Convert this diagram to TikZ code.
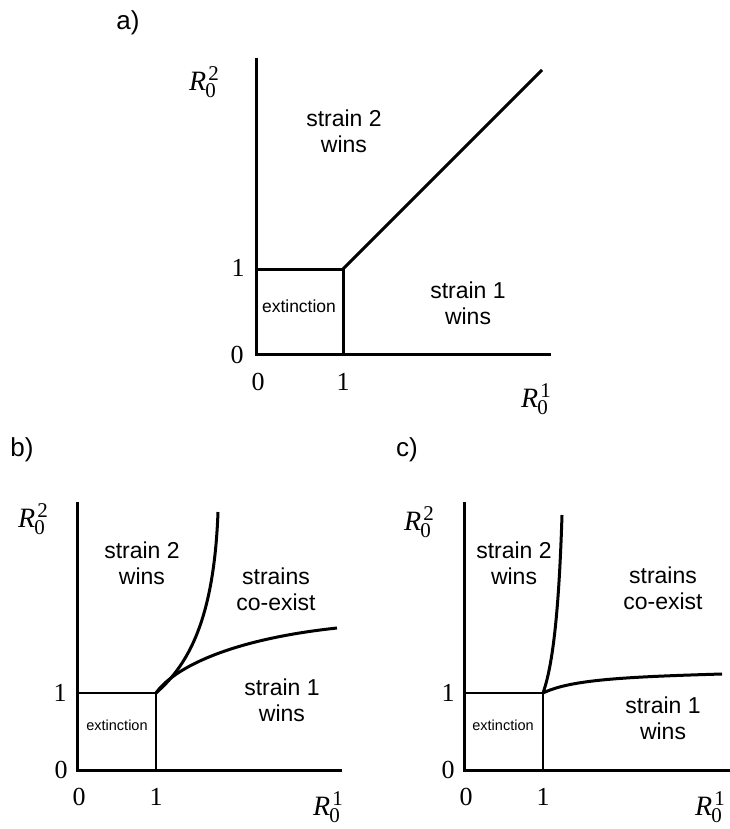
\documentclass[tikz,border=0pt]{standalone}
\usepackage{fontspec}
\setmainfont{Liberation Sans}
\newfontfamily\tms{Liberation Serif}
\newcommand{\Rlab}[2]{{\tms\fontsize{28}{28}\selectfont\textit{R}\kern-1pt\makebox[0pt][l]{\raisebox{-7pt}{\fontsize{21}{21}\selectfont #1}}\raisebox{10pt}{\kern3pt\fontsize{21}{21}\selectfont #2}}}
\begin{document}
\begin{tikzpicture}[x=1pt,y=-1pt,
  ax/.style={line width=3pt,line cap=rect},
  bx/.style={line width=3pt},
  bxs/.style={line width=2.3pt},
  crv/.style={line width=3pt},
  reg/.style={align=center,font=\fontsize{23}{26}\selectfont,inner sep=0pt},
  ext/.style={font=\fontsize{17.5}{17.5}\selectfont,inner sep=0pt},
  exts/.style={font=\fontsize{14.5}{14.5}\selectfont,inner sep=0pt},
  tick/.style={font=\tms\fontsize{26}{26}\selectfont,inner sep=0pt},
  plab/.style={font=\fontsize{26}{26}\selectfont,inner sep=0pt},
  rl/.style={inner sep=0pt}]
\useasboundingbox (0,0) rectangle (730,829);
% ---------- panel a ----------
\node[plab] (la) at (128,23) {a)};
\coordinate (aT) at (256,60);
\coordinate (aO) at (256,354);
\coordinate (aX) at (549,354);
\coordinate (aB) at (343,269);
\coordinate (aL) at (256,269);
\coordinate (aD) at (343,354);
\coordinate (aE) at (542,70);
\draw[ax] (aT) -- (aO) -- (aX);
\draw[bx] (aL) -- (aB) -- (aD);
\draw[crv] (aB) -- (aE);
\node[rl] (aR2) at (204,82) {\Rlab{0}{2}};
\node[rl] (aR1) at (536,399) {\Rlab{0}{1}};
\node[tick] (a1y) at (238,268) {1};
\node[tick] (a0y) at (237,355) {0};
\node[tick] (a0x) at (258,382) {0};
\node[tick] (a1x) at (343,382) {1};
\node[reg] (as2) at (344,131) {strain 2\\wins};
\node[reg] (as1) at (468,303) {strain 1\\wins};
\node[ext] (aex) at (299,306) {extinction};
% ---------- panel b ----------
\node[plab] (lb) at (22,450) {b)};
\coordinate (bT) at (77,503);
\coordinate (bO) at (77,770);
\coordinate (bX) at (340,770);
\coordinate (bB) at (156,693);
\coordinate (bL) at (77,693);
\coordinate (bD) at (156,770);
\coordinate (bE1) at (218,512);
\coordinate (bE2) at (337,628);
\draw[ax] (bT) -- (bO) -- (bX);
\draw[bxs] (bL) -- (bB) -- (bD);
\draw[crv] (bB) .. controls (188,665) and (214,620) .. (bE1);
\draw[crv] (bB) .. controls (172,670) and (225,640) .. (bE2);
\node[rl] (bR2) at (33,519) {\Rlab{0}{2}};
\node[rl] (bR1) at (328,807) {\Rlab{0}{1}};
\node[tick] (b1y) at (60,693) {1};
\node[tick] (b0y) at (61,770) {0};
\node[tick] (b0x) at (79,797) {0};
\node[tick] (b1x) at (156,797) {1};
\node[reg] (bs2) at (142,563) {strain 2\\wins};
\node[reg] (bco) at (276,589) {strains\\co-exist};
\node[reg] (bs1) at (282,700) {strain 1\\wins};
\node[exts] (bex) at (117,725) {extinction};
% ---------- panel c ----------
\node[plab] (lc) at (407,450) {c)};
\coordinate (cT) at (464,503);
\coordinate (cO) at (464,770);
\coordinate (cX) at (728,770);
\coordinate (cB) at (543,693);
\coordinate (cL) at (464,693);
\coordinate (cD) at (543,770);
\coordinate (cE1) at (562,515);
\coordinate (cE2) at (722,674);
\draw[ax] (cT) -- (cO) -- (cX);
\draw[bxs] (cL) -- (cB) -- (cD);
\draw[crv] (cB) .. controls (553,665) and (559,610) .. (cE1);
\draw[crv] (cB) .. controls (570,680) and (620,677) .. (cE2);
\node[rl] (cR2) at (419,522) {\Rlab{0}{2}};
\node[rl] (cR1) at (710,807) {\Rlab{0}{1}};
\node[tick] (c1y) at (448,693) {1};
\node[tick] (c0y) at (448,770) {0};
\node[tick] (c0x) at (466,797) {0};
\node[tick] (c1x) at (543,797) {1};
\node[reg] (cs2) at (514,563) {strain 2\\wins};
\node[reg] (cco) at (663,588) {strains\\co-exist};
\node[reg] (cs1) at (663,718) {strain 1\\wins};
\node[exts] (cex) at (503,725) {extinction};
\end{tikzpicture}
\end{document}
